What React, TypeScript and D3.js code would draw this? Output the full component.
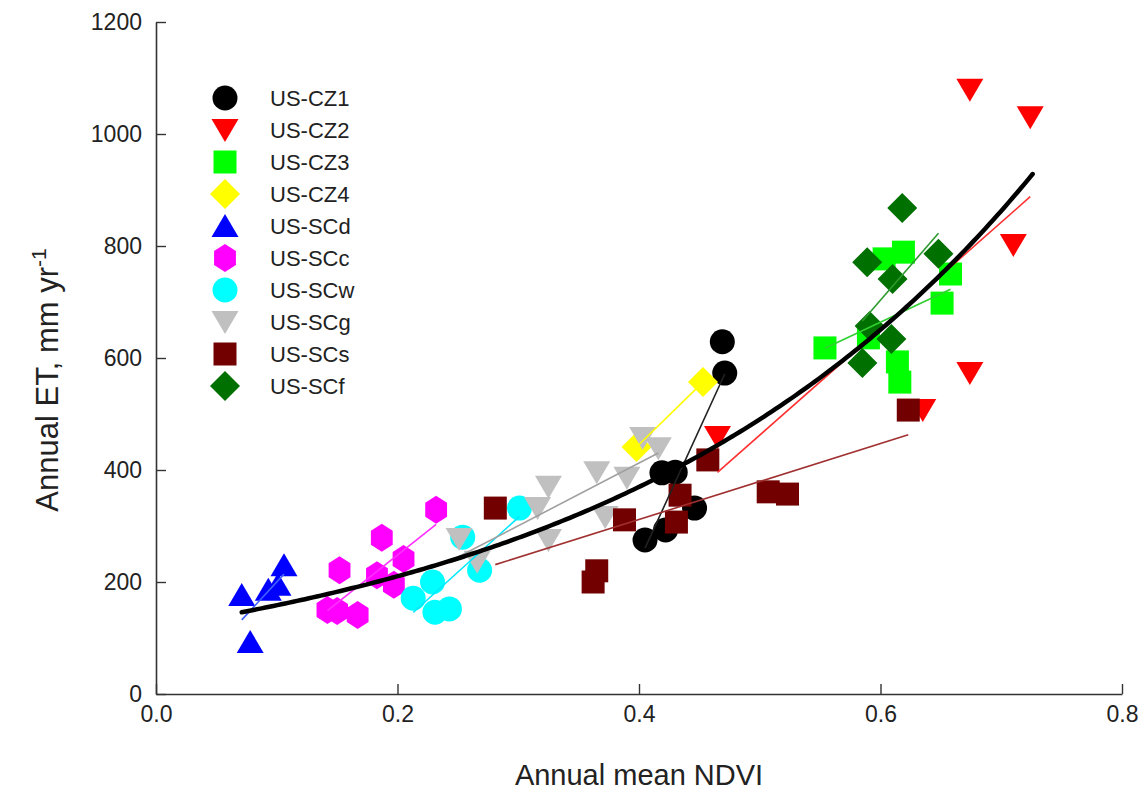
import React, { useEffect, useRef } from "react";
import * as d3 from "d3";

// ---------- data ----------
const seriesNames = ["US-CZ1", "US-CZ2", "US-CZ3", "US-CZ4", "US-SCd", "US-SCc", "US-SCw", "US-SCg", "US-SCs", "US-SCf"];

const cz1Ndvi = [0.405, 0.422, 0.419, 0.430, 0.446, 0.469, 0.471];
const cz1Et = [275, 293, 395, 396, 332, 629, 573];

const cz2Ndvi = [0.465, 0.635, 0.674, 0.710, 0.674, 0.724];
const cz2Et = [459, 507, 573, 802, 1079, 1030];

const cz3Ndvi = [0.554, 0.590, 0.614, 0.616, 0.603, 0.619, 0.658, 0.651];
const cz3Et = [618, 636, 593, 557, 777, 789, 750, 698];

const cz4Ndvi = [0.398, 0.453];
const cz4Et = [441, 557];

const scdNdvi = [0.071, 0.078, 0.093, 0.101, 0.106];
const scdEt = [177, 93, 186, 195, 230];

const sccNdvi = [0.142, 0.150, 0.167, 0.152, 0.183, 0.197, 0.187, 0.205, 0.232];
const sccEt = [150, 148, 141, 221, 212, 195, 279, 241, 329];

const scwNdvi = [0.213, 0.229, 0.231, 0.243, 0.254, 0.268, 0.301];
const scwEt = [171, 200, 146, 152, 280, 221, 332];

const scgNdvi = [0.251, 0.266, 0.316, 0.325, 0.325, 0.365, 0.372, 0.390, 0.403, 0.416];
const scgEt = [277, 236, 332, 370, 275, 396, 316, 386, 457, 439];

const scsNdvi = [0.281, 0.362, 0.365, 0.388, 0.431, 0.434, 0.457, 0.507, 0.523, 0.623];
const scsEt = [332, 200, 220, 311, 307, 355, 418, 361, 357, 507];

const scfNdvi = [0.618, 0.589, 0.610, 0.648, 0.591, 0.609, 0.585];
const scfEt = [868, 771, 741, 786, 657, 634, 591];

// overall exponential fit ET = a * exp(b * NDVI)
const fitA = 119.5;
const fitB = 2.824;
const fitRange = [0.071, 0.726];

const xTicks = [0.0, 0.2, 0.4, 0.6, 0.8];
const yTicks = [0, 200, 400, 600, 800, 1000, 1200];

// ---------- styles ----------
const seriesStyles = [
  { shape: "circle", fill: "#000000", line: "#222222" },
  { shape: "triDown", fill: "#ff0000", line: "#ff3030" },
  { shape: "square", fill: "#00ff00", line: "#30d030" },
  { shape: "diamond", fill: "#ffff00", line: "#ffff00" },
  { shape: "triUp", fill: "#0000ff", line: "#4060ff" },
  { shape: "hexagon", fill: "#ff00ff", line: "#ff30ff" },
  { shape: "circle", fill: "#00ffff", line: "#00e8ff" },
  { shape: "triDown", fill: "#c0c0c0", line: "#a0a0a0" },
  { shape: "square", fill: "#720000", line: "#a03030" },
  { shape: "diamond", fill: "#007000", line: "#2e9a2e" },
];

const seriesData = [
  [cz1Ndvi, cz1Et], [cz2Ndvi, cz2Et], [cz3Ndvi, cz3Et], [cz4Ndvi, cz4Et], [scdNdvi, scdEt],
  [sccNdvi, sccEt], [scwNdvi, scwEt], [scgNdvi, scgEt], [scsNdvi, scsEt], [scfNdvi, scfEt],
];

function shapePath(shape: string): string {
  switch (shape) {
    case "circle": {
      const r = 12.5;
      return `M${r},0A${r},${r} 0 1,1 ${-r},0A${r},${r} 0 1,1 ${r},0Z`;
    }
    case "triDown":
      return "M-13.5,-11L13.5,-11L0,12Z";
    case "triUp":
      return "M-13.5,11L13.5,11L0,-12Z";
    case "square":
      return "M-11.5,-11.5L11.5,-11.5L11.5,11.5L-11.5,11.5Z";
    case "diamond":
      return "M0,-15L15,0L0,15L-15,0Z";
    case "hexagon": {
      const r = 14;
      const pts = d3.range(6).map((i) => {
        const a = (Math.PI / 3) * i - Math.PI / 2;
        return [r * Math.cos(a) * 0.9, r * Math.sin(a)];
      });
      return "M" + pts.map((p) => p.join(",")).join("L") + "Z";
    }
  }
  return "";
}

function regression(xs: number[], ys: number[]) {
  const mx = d3.mean(xs)!;
  const my = d3.mean(ys)!;
  let sxy = 0, sxx = 0;
  xs.forEach((x, i) => { sxy += (x - mx) * (ys[i] - my); sxx += (x - mx) * (x - mx); });
  const slope = sxy / sxx;
  const x0 = d3.min(xs)!, x1 = d3.max(xs)!;
  return [[x0, my + slope * (x0 - mx)], [x1, my + slope * (x1 - mx)]];
}

const W = 1144, H = 800;
const margin = { left: 156, right: 22, top: 22, bottom: 106 };
const FONT = "'Liberation Sans', Arial, Helvetica, sans-serif";

export default function App() {
  const xAxisRef = useRef<SVGGElement>(null);
  const yAxisRef = useRef<SVGGElement>(null);

  const x = d3.scaleLinear().domain([0, 0.8]).range([margin.left, W - margin.right]);
  const y = d3.scaleLinear().domain([0, 1200]).range([H - margin.bottom, margin.top]);

  useEffect(() => {
    const xa = d3.axisBottom(x).tickValues(xTicks).tickFormat(d3.format(".1f")).tickSizeInner(-10).tickSizeOuter(0).tickPadding(12);
    const ya = d3.axisLeft(y).tickValues(yTicks).tickFormat(d3.format("d")).tickSizeInner(-10).tickSizeOuter(0).tickPadding(14);
    const gx = d3.select(xAxisRef.current!);
    gx.call(xa as any);
    const gy = d3.select(yAxisRef.current!);
    gy.call(ya as any);
    [gx, gy].forEach((g) => {
      g.select(".domain").attr("stroke", "#333").attr("stroke-width", 1.6);
      g.selectAll(".tick line").attr("stroke", "#333").attr("stroke-width", 1.4);
      g.selectAll(".tick text").attr("fill", "#222").style("font-family", FONT).style("font-size", "23px");
    });
  }, []);

  const fitLine = d3.line<number>().x((d) => x(d)).y((d) => y(fitA * Math.exp(fitB * d))).curve(d3.curveLinear);
  const fitXs = d3.range(0, 201).map((i) => fitRange[0] + ((fitRange[1] - fitRange[0]) * i) / 200);

  const legendX = 225, legendTextX = 270, legendY0 = 98, legendStep = 32;

  return (
    <svg width={W} height={H} style={{ position: "absolute", left: 0, top: 0, background: "#fff" }}>
      <rect x={0} y={0} width={W} height={H} fill="#fff" />
      {/* markers */}
      {seriesData.map(([xs, ys], si) => (
        <g key={"m" + si}>
          {xs.map((xv, i) => (
            <path key={i} d={shapePath(seriesStyles[si].shape)} transform={`translate(${x(xv)},${y(ys[i])})`} fill={seriesStyles[si].fill} />
          ))}
        </g>
      ))}
      {/* per-site regression lines */}
      {seriesData.map(([xs, ys], si) => {
        const seg = regression(xs, ys);
        return (
          <line key={"r" + si} x1={x(seg[0][0])} y1={y(seg[0][1])} x2={x(seg[1][0])} y2={y(seg[1][1])}
            stroke={seriesStyles[si].line} strokeWidth={1.6} />
        );
      })}
      {/* overall fit */}
      <path d={fitLine(fitXs)!} fill="none" stroke="#000" strokeWidth={4.5} strokeLinecap="round" />
      {/* axes */}
      <g ref={xAxisRef} transform={`translate(0,${H - margin.bottom})`} />
      <g ref={yAxisRef} transform={`translate(${margin.left},0)`} />
      {/* legend */}
      {seriesNames.map((name, i) => (
        <g key={"l" + i} transform={`translate(0,${legendY0 + i * legendStep})`}>
          <path d={shapePath(seriesStyles[i].shape)} transform={`translate(${legendX},0)`} fill={seriesStyles[i].fill} />
          <text x={legendTextX} y={0} dy="0.35em" fontFamily={FONT} fontSize={22} fill="#222">{name}</text>
        </g>
      ))}
      {/* axis titles */}
      <text x={(margin.left + W - margin.right) / 2} y={785} textAnchor="middle" fontFamily={FONT} fontSize={29} fill="#222">Annual mean NDVI</text>
      <text transform={`translate(58,380) rotate(-90)`} textAnchor="middle" fontFamily={FONT} fontSize={31} fill="#222">
        Annual ET, mm yr<tspan dy={-12} fontSize={21}>-1</tspan>
      </text>
    </svg>
  );
}
